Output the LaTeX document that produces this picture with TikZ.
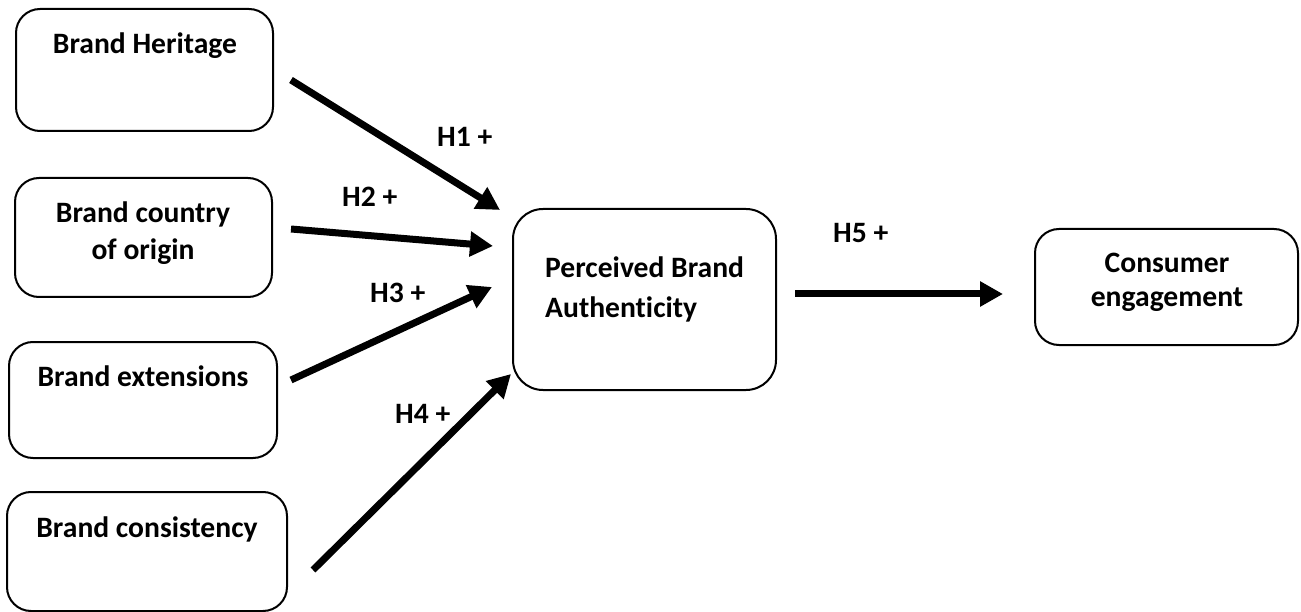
\documentclass[tikz,border=0pt]{standalone}
\usepackage{fontspec}
\setmainfont{Carlito}[Ligatures=NoCommon]
\usetikzlibrary{arrows.meta}
\begin{document}
\begin{tikzpicture}[x=1pt,y=-1pt,
  box/.style={draw=black,line width=2pt,rounded corners=24pt,inner sep=0pt,fill=white},
  txt/.style={inner sep=0pt,font=\fontsize{29.6}{37}\selectfont\bfseries},
  hyp/.style={inner sep=0pt,anchor=base west,font=\fontsize{29.6}{37}\selectfont\bfseries},
  link/.style={line width=7pt,line cap=butt,-{Triangle[width=24pt,length=23pt]}}]
\useasboundingbox (0,0) rectangle (1301,612);
% boxes
\node[box,minimum width=257pt,minimum height=122pt] (b1) at (144.5,70) {};
\node[box,minimum width=257pt,minimum height=119pt] (b2) at (143.5,237.5) {};
\node[box,minimum width=268pt,minimum height=116pt] (b3) at (143,400) {};
\node[box,minimum width=280pt,minimum height=119pt] (b4) at (147,551.5) {};
\node[box,rounded corners=30pt,minimum width=263pt,minimum height=181pt] (b5) at (644.5,299.5) {};
\node[box,minimum width=263pt,minimum height=116pt] (b6) at (1166.5,287) {};
% texts (for two-line texts the base anchor is the last line's baseline)
\node[txt,anchor=base] (t1) at (145,54) {Brand Heritage};
\node[txt,anchor=base,align=center] (t2) at (143,260) {Brand country\\of origin};
\node[txt,anchor=base] (t3) at (143,386) {Brand extensions};
\node[txt,anchor=base] (t4) at (147,537) {Brand consistency};
\node[txt,anchor=base west,align=left,font=\fontsize{29.6}{40}\selectfont\bfseries] (t5) at (545,318) {Perceived Brand\\Authenticity};
\node[txt,anchor=base,align=center,font=\fontsize{29.6}{35}\selectfont\bfseries] (t6) at (1167,307) {Consumer\\engagement};
% hypothesis labels
\node[hyp] (l1) at (437,147) {H1 +};
\node[hyp] (l2) at (342,207) {H2 +};
\node[hyp] (l3) at (370,303) {H3 +};
\node[hyp] (l4) at (395,423) {H4 +};
\node[hyp] (l5) at (833,243) {H5 +};
% arrow ends
\coordinate (a1s) at (291,80);  \coordinate (a1e) at (500,210);
\coordinate (a2s) at (291,229); \coordinate (a2e) at (493,246);
\coordinate (a3s) at (291,380); \coordinate (a3e) at (492,287);
\coordinate (a4s) at (313,570); \coordinate (a4e) at (511,374);
\coordinate (a5s) at (795,294); \coordinate (a5e) at (1003,294);
\draw[link] (a1s) -- (a1e);
\draw[link] (a2s) -- (a2e);
\draw[link] (a3s) -- (a3e);
\draw[link] (a4s) -- (a4e);
\draw[link] (a5s) -- (a5e);
\end{tikzpicture}
\end{document}
